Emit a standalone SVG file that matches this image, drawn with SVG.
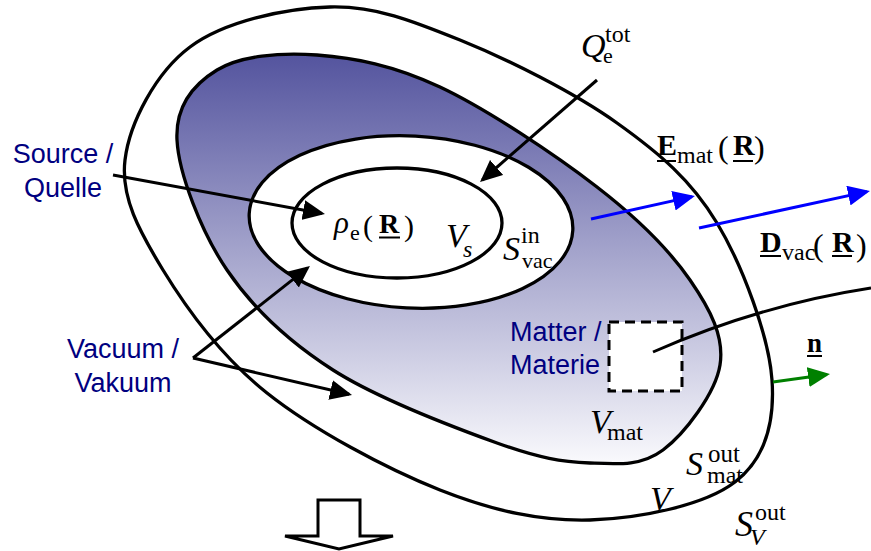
<svg xmlns="http://www.w3.org/2000/svg" width="871" height="551" viewBox="0 0 871 551">
<style>
.ln{fill:none;stroke:#000;stroke-width:3}
.bd{stroke:#000;stroke-width:3.3}
.lbl{font-family:"Liberation Sans",Arial,sans-serif;font-size:27px;fill:#000080}
.m{font-family:"Liberation Serif","Times New Roman",serif;fill:#000}
.it{font-style:italic}
.b{font-weight:bold}
.ul{stroke:#000;stroke-width:2}
</style>
<defs>
<linearGradient id="g" gradientUnits="userSpaceOnUse" x1="0" y1="45" x2="0" y2="470">
<stop offset="0" stop-color="#50509c"/>
<stop offset="1" stop-color="#fcfcfe"/>
</linearGradient>
<marker id="ak" markerUnits="userSpaceOnUse" markerWidth="22" markerHeight="20" refX="19" refY="10" orient="auto"><path d="M0,0 L22,10 L0,20 z" fill="#000"/></marker>
<marker id="ab" markerUnits="userSpaceOnUse" markerWidth="22" markerHeight="20" refX="19" refY="10" orient="auto"><path d="M0,0 L22,10 L0,20 z" fill="#0000ff"/></marker>
<marker id="ag" markerUnits="userSpaceOnUse" markerWidth="22" markerHeight="20" refX="19" refY="10" orient="auto"><path d="M0,0 L22,10 L0,20 z" fill="#008000"/></marker>
</defs>
<g id="outer">
<path class="bd" fill="#fff" d="M330,7 C375,5.8 412.2,20.7 460,40 C507.8,59.3 574.2,92.5 617,123 C659.8,153.5 691.2,180.2 717,223 C742.8,265.8 769,336.8 772,380 C775,423.2 765.3,458.7 735,482 C704.7,505.3 639.2,518.7 590,520 C540.8,521.3 493.8,511.2 440,490 C386.2,468.8 313.2,429.7 267,393 C220.8,356.3 186.7,308.8 163,270 C139.3,231.2 120.5,197.2 125,160 C129.5,122.8 155.8,72.5 190,47 C224.2,21.5 285,8.2 330,7 Z"/>
</g>
<g id="matter-region">
<path class="bd" fill="url(#g)" d="M317,55 C354.2,57.8 393.3,65 440,87 C486.7,109 555.3,154.8 597,187 C638.7,219.2 669.5,250.3 690,280 C710.5,309.7 724.5,336.7 720,365 C715.5,393.3 684.7,433.7 663,450 C641.3,466.3 617.7,464.2 590,463 C562.3,461.8 539.8,458.5 497,443 C454.2,427.5 378,398.8 333,370 C288,341.2 253,308.3 227,270 C201,231.7 178.7,173.3 177,140 C175.3,106.7 193.7,84.2 217,70 C240.3,55.8 279.8,52.2 317,55 Z"/>
</g>
<g id="vacuum-ring">
<ellipse class="bd" fill="#fff" cx="411" cy="222" rx="162" ry="86" transform="rotate(3 411 222)"/>
</g>
<g id="source">
<ellipse class="bd" fill="#fff" cx="397" cy="223" rx="105" ry="55"/>
</g>
<g id="matter-box">
<rect x="609" y="322" width="73" height="69" fill="#fff" stroke="#000" stroke-width="3" stroke-dasharray="10 6"/>
</g>
<g id="connectors">
<path class="ln" d="M653,352 Q760,305 871,288"/>
<line class="ln" x1="113" y1="175" x2="322" y2="213.5" marker-end="url(#ak)"/>
<line class="ln" x1="597" y1="80" x2="482.3" y2="180" marker-end="url(#ak)"/>
<line class="ln" x1="193" y1="358" x2="307.6" y2="267.9" marker-end="url(#ak)"/>
<line class="ln" x1="193" y1="358" x2="349.1" y2="394.3" marker-end="url(#ak)"/>
<line x1="591" y1="219" x2="692" y2="196.6" stroke="#0000ff" stroke-width="3" marker-end="url(#ab)"/>
<line x1="699" y1="228" x2="867" y2="191.6" stroke="#0000ff" stroke-width="3" marker-end="url(#ab)"/>
<line x1="773" y1="382" x2="827" y2="374.4" stroke="#008000" stroke-width="3" marker-end="url(#ag)"/>
</g>
<g id="down-arrow">
<polygon points="318,500 360,500 360,536 393,536 339,549 285,536 318,536" fill="#fff" stroke="#000" stroke-width="3" stroke-linejoin="miter"/>
</g>
<g id="labels">
<text class="lbl" x="63" y="163" text-anchor="middle">Source /</text>
<text class="lbl" x="63" y="197" text-anchor="middle">Quelle</text>
<text class="lbl" x="123" y="358" text-anchor="middle">Vacuum /</text>
<text class="lbl" x="123" y="392" text-anchor="middle">Vakuum</text>
<text class="lbl" x="510" y="341">Matter /</text>
<text class="lbl" x="510" y="374">Materie</text>
</g>
<g id="math">
<text class="m" font-size="30"><tspan class="it" x="334" y="233" font-size="31">ρ</tspan><tspan x="350" y="240" font-size="22">e</tspan><tspan x="363" y="236">(</tspan><tspan class="b" x="379" y="233" font-size="28">R</tspan><tspan x="404" y="236">)</tspan></text>
<line class="ul" x1="379" y1="237.5" x2="400" y2="237.5"/>

<text class="m" font-size="34"><tspan class="it" x="446" y="247">V</tspan><tspan class="it" x="463" y="257" font-size="24">s</tspan></text>

<text class="m" font-size="34"><tspan class="it" x="503" y="260">S</tspan><tspan x="521" y="243" font-size="24">in</tspan><tspan x="522" y="268" font-size="22">vac</tspan></text>

<text class="m" font-size="34"><tspan class="it" x="581" y="57">Q</tspan><tspan x="603" y="63" font-size="22">e</tspan><tspan x="605" y="42" font-size="24">tot</tspan></text>

<text class="m" font-size="30"><tspan class="b" x="657" y="155">E</tspan><tspan x="677" y="163" font-size="24">mat</tspan><tspan x="718" y="158" font-size="32">(</tspan><tspan class="b" x="733" y="155">R</tspan><tspan x="754" y="158" font-size="32">)</tspan></text>
<line class="ul" x1="657" y1="161" x2="676" y2="161"/>
<line class="ul" x1="733" y1="161" x2="753" y2="161"/>

<text class="m" font-size="30"><tspan class="b" x="760" y="252">D</tspan><tspan x="782" y="260" font-size="24">vac</tspan><tspan x="813" y="256" font-size="32">(</tspan><tspan class="b" x="832" y="252">R</tspan><tspan x="856" y="256" font-size="32">)</tspan></text>
<line class="ul" x1="760" y1="256" x2="781" y2="256"/>
<line class="ul" x1="832" y1="256" x2="852" y2="256"/>

<text class="m b" x="807" y="352" font-size="27">n</text>
<line class="ul" x1="807" y1="356" x2="822" y2="356"/>

<text class="m" font-size="34"><tspan class="it" x="590" y="433">V</tspan><tspan x="607" y="440" font-size="24">mat</tspan></text>

<text class="m" font-size="34"><tspan class="it" x="686" y="475">S</tspan><tspan x="708" y="462" font-size="25">out</tspan><tspan x="707" y="483" font-size="24">mat</tspan></text>

<text class="m it" x="650" y="510" font-size="34">V</text>

<text class="m" font-size="36"><tspan class="it" x="735" y="536">S</tspan><tspan x="755" y="520" font-size="24">out</tspan><tspan class="it" x="750" y="545" font-size="24">V</tspan></text>
</g>
</svg>
